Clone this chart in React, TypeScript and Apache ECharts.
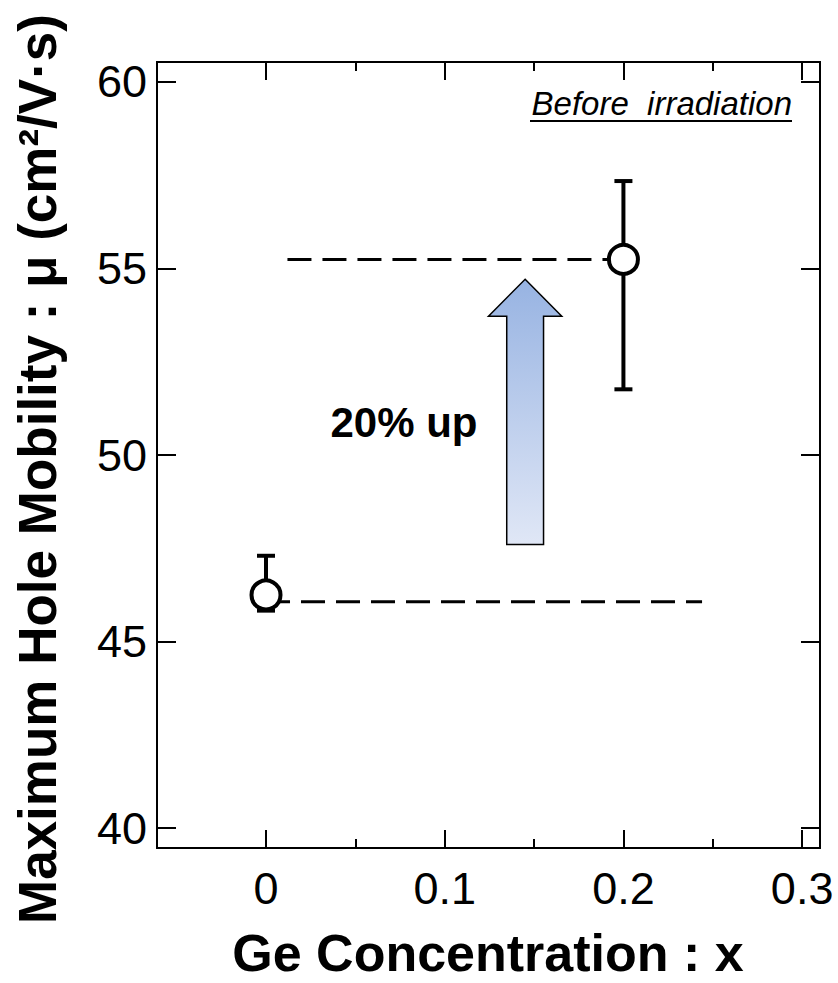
import React, { useEffect, useRef } from "react";
import * as echarts from "echarts";

// ---- data ----
const xValues = [0, 0.2];
const mobility = [46.25, 55.24];
const errLow = [45.83, 51.76];
const errHigh = [47.3, 57.34];
const refLine1 = [[0.0, 46.07], [0.244, 46.07]];
const refLine2 = [[0.012, 55.24], [0.2, 55.24]];
const xTicks = [0, 0.1, 0.2, 0.3];
const xMinorTicks = [0.05, 0.15, 0.25];
const yTicks = [40, 45, 50, 55, 60];
// arrow annotation (data coordinates)
const arrowX = 0.145;
const arrowTipY = 54.71;
const arrowHeadBaseY = 53.72;
const arrowTailY = 47.6;
const arrowHeadHalfW = 0.0205;
const arrowShaftHalfW = 0.0103;

const FONT = '"Liberation Sans", Arial, Helvetica, sans-serif';
const X_MIN = -0.061;
const X_MAX = 0.31;
const Y_MIN = 39.47;
const Y_MAX = 60.53;

export default function App() {
  const ref = useRef<HTMLDivElement>(null);
  useEffect(() => {
    if (!ref.current) return;
    const chart = echarts.init(ref.current, null, { renderer: "svg" });
    const axisLineStyle = { color: "#000", width: 2 };
    const baseX = {
      type: "value",
      min: X_MIN,
      max: X_MAX,
      splitLine: { show: false },
      axisLine: { show: true, onZero: false, lineStyle: axisLineStyle },
    };
    const baseY = {
      type: "value",
      min: Y_MIN,
      max: Y_MAX,
      splitLine: { show: false },
      axisLine: { show: true, onZero: false, lineStyle: axisLineStyle },
    };
    const option: any = {
      animation: false,
      backgroundColor: "#fff",
      grid: { left: 157, right: 18, top: 62, bottom: 135, containLabel: false },
      xAxis: [
        {
          ...baseX,
          position: "bottom",
          axisTick: { show: true, inside: true, length: 18, customValues: xTicks, lineStyle: { color: "#000", width: 2 } },
          axisLabel: {
            show: true,
            customValues: xTicks,
            margin: 18,
            fontSize: 45,
            fontFamily: FONT,
            color: "#000",
            formatter: (v: number) => String(+v.toFixed(2)),
          },
        },
        {
          ...baseX,
          position: "bottom",
          axisTick: { show: true, inside: true, length: 9, customValues: xMinorTicks, lineStyle: { color: "#000", width: 2 } },
          axisLabel: { show: false },
        },
        {
          ...baseX,
          position: "top",
          axisTick: { show: true, inside: true, length: 18, customValues: xTicks, lineStyle: { color: "#000", width: 2 } },
          axisLabel: { show: false },
        },
        {
          ...baseX,
          position: "top",
          axisTick: { show: true, inside: true, length: 9, customValues: xMinorTicks, lineStyle: { color: "#000", width: 2 } },
          axisLabel: { show: false },
        },
      ],
      yAxis: [
        {
          ...baseY,
          position: "left",
          axisTick: { show: true, inside: true, length: 19, customValues: yTicks, lineStyle: { color: "#000", width: 2 } },
          axisLabel: {
            show: true,
            customValues: yTicks,
            margin: 10,
            fontSize: 45,
            fontFamily: FONT,
            color: "#000",
          },
        },
        {
          ...baseY,
          position: "right",
          axisTick: { show: true, inside: true, length: 19, customValues: yTicks, lineStyle: { color: "#000", width: 2 } },
          axisLabel: { show: false },
        },
      ],
      series: [
        {
          type: "line",
          data: refLine1,
          symbol: "none",
          lineStyle: { color: "#000", width: 3, type: [24, 11] },
          z: 1,
          silent: true,
        },
        {
          type: "line",
          data: refLine2,
          symbol: "none",
          lineStyle: { color: "#000", width: 3, type: [24, 11] },
          z: 1,
          silent: true,
        },
        {
          type: "custom",
          z: 2,
          data: [[arrowX, arrowTipY, arrowHeadBaseY, arrowTailY, arrowHeadHalfW, arrowShaftHalfW]],
          renderItem: (params: any, api: any) => {
            const x = api.value(0);
            const tip = api.value(1);
            const hb = api.value(2);
            const tail = api.value(3);
            const hw = api.value(4);
            const sw = api.value(5);
            const pts = [
              api.coord([x, tip]),
              api.coord([x + hw, hb]),
              api.coord([x + sw, hb]),
              api.coord([x + sw, tail]),
              api.coord([x - sw, tail]),
              api.coord([x - sw, hb]),
              api.coord([x - hw, hb]),
            ];
            return {
              type: "polygon",
              shape: { points: pts },
              style: {
                fill: new echarts.graphic.LinearGradient(0, 0, 0, 1, [
                  { offset: 0, color: "#97b3e2" },
                  { offset: 1, color: "#e0e7f6" },
                ]),
                stroke: "#000",
                lineWidth: 1.5,
              },
            };
          },
        },
        {
          type: "custom",
          z: 3,
          data: xValues.map((x, i) => [x, errLow[i], errHigh[i]]),
          renderItem: (params: any, api: any) => {
            const x = api.value(0);
            const lo = api.coord([x, api.value(1)]);
            const hi = api.coord([x, api.value(2)]);
            const cap = 9;
            const st = { stroke: "#000", lineWidth: 4 };
            return {
              type: "group",
              children: [
                { type: "line", shape: { x1: lo[0], y1: lo[1], x2: hi[0], y2: hi[1] }, style: st },
                { type: "line", shape: { x1: lo[0] - cap, y1: lo[1], x2: lo[0] + cap, y2: lo[1] }, style: st },
                { type: "line", shape: { x1: hi[0] - cap, y1: hi[1], x2: hi[0] + cap, y2: hi[1] }, style: st },
              ],
            };
          },
        },
        {
          type: "scatter",
          z: 4,
          data: xValues.map((x, i) => [x, mobility[i]]),
          symbol: "circle",
          symbolSize: 29,
          itemStyle: { color: "#fff", borderColor: "#000", borderWidth: 4, opacity: 1 },
        },
      ],
      graphic: [
        {
          type: "text",
          x: 37,
          y: 469,
          rotation: Math.PI / 2,
          style: {
            text: "Maximum Hole Mobility : μ (cm²/V·s)",
            font: `bold 53px ${FONT}`,
            fill: "#000",
            textAlign: "center",
            textVerticalAlign: "middle",
          },
        },
        {
          type: "text",
          x: 488,
          y: 953,
          style: {
            text: "Ge Concentration : x",
            font: `bold 52px ${FONT}`,
            fill: "#000",
            textAlign: "center",
            textVerticalAlign: "middle",
          },
        },
        {
          type: "text",
          x: 404,
          y: 422,
          style: {
            text: "20% up",
            font: `bold 42px ${FONT}`,
            fill: "#000",
            textAlign: "center",
            textVerticalAlign: "middle",
          },
        },
        {
          type: "text",
          x: 792,
          y: 103,
          style: {
            text: "Before  irradiation",
            font: `italic 33px ${FONT}`,
            fill: "#000",
            textAlign: "right",
            textVerticalAlign: "middle",
          },
        },
        {
          type: "line",
          shape: { x1: 530, y1: 121, x2: 792, y2: 121 },
          style: { stroke: "#000", lineWidth: 2 },
        },
      ],
    };
    chart.setOption(option);
    return () => chart.dispose();
  }, []);
  return (
    <div
      ref={ref}
      style={{ position: "fixed", left: 0, top: 0, width: 838, height: 983, background: "#fff" }}
    />
  );
}
